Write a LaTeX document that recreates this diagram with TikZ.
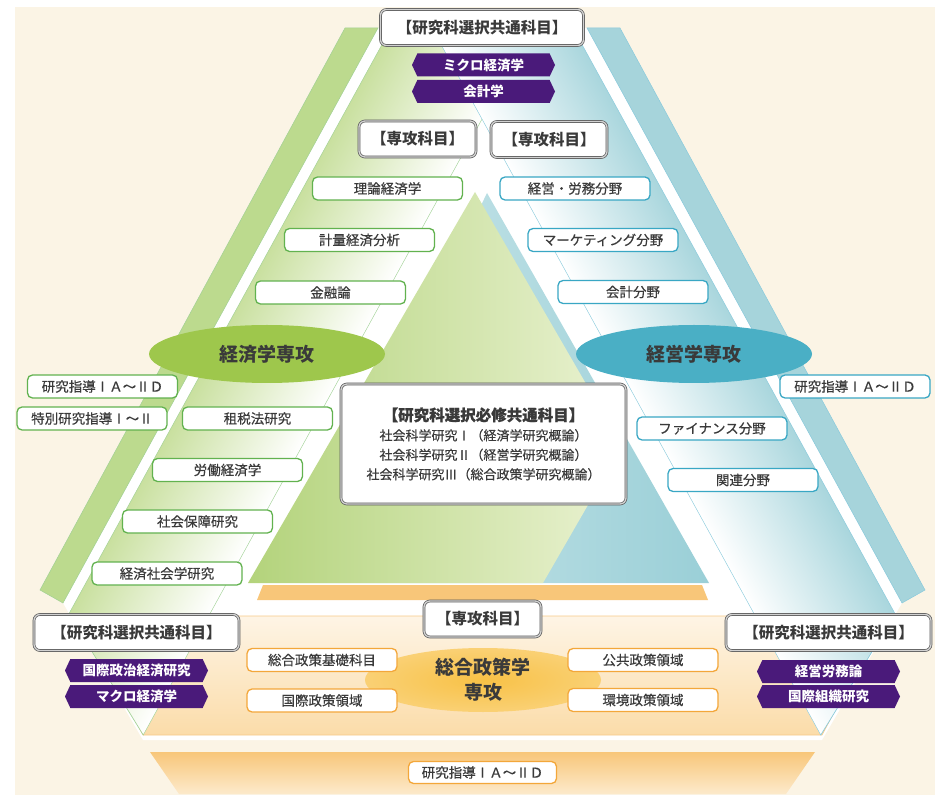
\documentclass[tikz,border=0pt]{standalone}
\usepackage{fontspec}
\setmainfont{Noto Sans CJK JP}
\newfontfamily\medfont[FakeBold=0.5]{Noto Sans CJK JP}
\usepackage{tikz}
\usetikzlibrary{shapes.geometric,shapes.symbols}
\definecolor{bgcream}{HTML}{FBF4E5}
\definecolor{gedge}{HTML}{62B24F}
\definecolor{bedge}{HTML}{39A7C4}
\definecolor{oedge}{HTML}{F3A73A}
\definecolor{purple1}{HTML}{4A1A7A}
\definecolor{ink}{HTML}{3A3A3A}
\definecolor{gband}{HTML}{C9E09F}
\definecolor{bband}{HTML}{A9D6DD}
\definecolor{gstrip}{HTML}{BCDA8E}
\definecolor{bstrip}{HTML}{A6D4DB}
\definecolor{gtri}{HTML}{B3D37B}
\definecolor{gtrilight}{HTML}{EAF2D2}
\definecolor{btri}{HTML}{9ACFD7}
\definecolor{btrilight}{HTML}{D2EAED}
\definecolor{ostrip}{HTML}{F8C679}
\definecolor{oband}{HTML}{FBDCA9}
\definecolor{gell}{HTML}{9EC74C}
\definecolor{bell}{HTML}{4AAFC5}
\definecolor{oell}{HTML}{F8C146}
\tikzset{crs/.style={rectangle,rounded corners=5pt,fill=white,line width=1.3pt,minimum width=150pt,minimum height=23pt,inner sep=0pt,text=ink,font=\medfont\fontsize{13.5}{13.5}\selectfont},
  gcrs/.style={crs,draw=gedge},
  bcrs/.style={crs,draw=bedge},
  ocrs/.style={crs,draw=oedge},
  hdr/.style={rectangle,rounded corners=6pt,fill=white,draw=black!65,double=black!18,double distance=1.3pt,line width=0.7pt,minimum height=36pt,inner sep=0pt,text=ink,font=\bfseries\fontsize{15.5}{15.5}\selectfont},
  ban/.style={signal,signal to=east and west,signal pointer angle=130,fill=purple1,text=white,minimum width=143pt,minimum height=23pt,inner sep=0pt,font=\bfseries\fontsize{13.5}{13.5}\selectfont},
  major/.style={ellipse,minimum width=236pt,minimum height=58pt,inner sep=0pt,text=ink,font=\bfseries\fontsize{19}{19}\selectfont}}
\begin{document}
\begin{tikzpicture}[x=1pt,y=-1pt]
        \useasboundingbox (0,0) rectangle (935,799);
        \fill[white] (0,0) rectangle (935,799);
        \fill[bgcream] (15,7) rectangle (935,795);
        \fill[white] (378,28) -- (587,28) -- (902,603) -- (822,740) -- (143,740) -- (63,603) -- cycle;

        \shade[top color=oband!30,bottom color=oband] (79,616) -- (886,616) -- (822,735) -- (143,735) -- cycle;
        \draw[oedge!60,line width=0.6pt] (79,616) -- (886,616) -- (822,735) -- (143,735) -- cycle;

        \begin{scope}[transform canvas={shift={(390pt,-30pt)},xslant=0.55}]
          \shade[left color=gband,right color=white,draw=gedge!60,line width=0.5pt] (0,0) -- (141,0) -- (141,705) -- (0,584) -- cycle;
        \end{scope}
        \begin{scope}[transform canvas={shift={(433pt,-30pt)},xslant=-0.55}]
          \shade[left color=white,right color=bband,draw=bedge!60,line width=0.5pt] (0,0) -- (141,0) -- (141,584) -- (0,705) -- cycle;
        \end{scope}

        \filldraw[fill=gstrip,draw=gedge!60,line width=0.5pt] (345,28) -- (378,28) -- (63,603) -- (40,590) -- cycle;
        \filldraw[fill=bstrip,draw=bedge!60,line width=0.5pt] (620,28) -- (587,28) -- (902,603) -- (925,590) -- cycle;

        \shade[left color=btrilight,right color=btri] (487,193) -- (709,583) -- (300,583) -- cycle;
        \shade[left color=gtri,right color=gtrilight] (475,192) -- (248,583) -- (543,583) -- (622,446) -- cycle;
        \fill[ostrip] (263,585) -- (702,585) -- (708,600) -- (257,600) -- cycle;
        \shade[top color=ostrip,bottom color=oband!60] (150,752) -- (815,752) -- (786,794) -- (179,794) -- cycle;

        \node[hdr,minimum width=203pt] (topcommon) at (482,27.5) {【研究科選択共通科目】};
        \node[ban] (micro) at (483.5,65) {ミクロ経済学};
        \node[ban] (kaikei) at (483.5,91.5) {会計学};
        \node[hdr,minimum width=117pt] (ecomajor) at (417.5,139) {【専攻科目】};
        \node[hdr,minimum width=116pt] (bizmajor) at (549,139.5) {【専攻科目】};

        \node[gcrs] (riron) at (387.5,188.5) {理論経済学};
        \node[gcrs] (keiryo) at (359.5,240) {計量経済分析};
        \node[gcrs] (kinyu) at (330.5,292.5) {金融論};
        \node[gcrs] (sozei) at (257.5,418.5) {租税法研究};
        \node[gcrs] (rodo) at (227.5,470) {労働経済学};
        \node[gcrs] (shaho) at (197.5,521.5) {社会保障研究};
        \node[gcrs] (keisha) at (167,573.5) {経済社会学研究};
        \node[gcrs] (ecoguide) at (102.5,386.5) {研究指導ⅠＡ～ⅡＤ};
        \node[gcrs] (tokubetsu) at (92,418.5) {特別研究指導Ⅰ～Ⅱ};
        \node[major,fill=gell] (eco) at (267,354) {経済学専攻};

        \node[bcrs] (romu) at (575,188.5) {経営・労務分野};
        \node[bcrs] (market) at (603,240) {マーケティング分野};
        \node[bcrs] (kaikeibun) at (633,292) {会計分野};
        \node[bcrs] (finance) at (712,428.5) {ファイナンス分野};
        \node[bcrs] (kanren) at (743,480) {関連分野};
        \node[bcrs] (bizguide) at (855,386.5) {研究指導ⅠＡ～ⅡＤ};
        \node[major,fill=bell] (biz) at (694,354) {経営学専攻};

        \node[hdr,align=center,minimum width=285pt,minimum height=120pt,font=\medfont\fontsize{13}{19.5}\selectfont] (required) at (483.5,444) {{\bfseries\fontsize{15.5}{20}\selectfont 【研究科選択必修共通科目】}\\社会科学研究Ⅰ（経済学研究概論）\\社会科学研究Ⅱ（経営学研究概論）\\社会科学研究Ⅲ（総合政策学研究概論）};

        \node[hdr,minimum width=117pt] (polmajor) at (482.5,619) {【専攻科目】};
        \node[major,shade,inner color=oell,outer color=oell!75!white,align=center,minimum height=64pt,font=\bfseries\fontsize{19}{25}\selectfont] (pol) at (483,680) {総合政策学\\専攻};
        \node[ocrs] (kiso) at (322,660) {総合政策基礎科目};
        \node[ocrs] (kokusai) at (322,700.5) {国際政策領域};
        \node[ocrs] (kokyo) at (643,660) {公共政策領域};
        \node[ocrs] (kankyo) at (643,700) {環境政策領域};

        \node[hdr,minimum width=205pt] (leftcommon) at (136.5,632.5) {【研究科選択共通科目】};
        \node[ban] (kokuseiji) at (136.5,670.5) {国際政治経済研究};
        \node[ban] (macro) at (136.5,696.5) {マクロ経済学};
        \node[hdr,minimum width=205pt] (rightcommon) at (828.5,632.5) {【研究科選択共通科目】};
        \node[ban] (keieiromu) at (828.5,671.5) {経営労務論};
        \node[ban] (soshiki) at (828.5,696.5) {国際組織研究};

        \node[ocrs,minimum width=148pt,minimum height=22pt] (polguide) at (482.5,772.5) {研究指導ⅠＡ～ⅡＤ};
    \end{tikzpicture}
\end{document}
